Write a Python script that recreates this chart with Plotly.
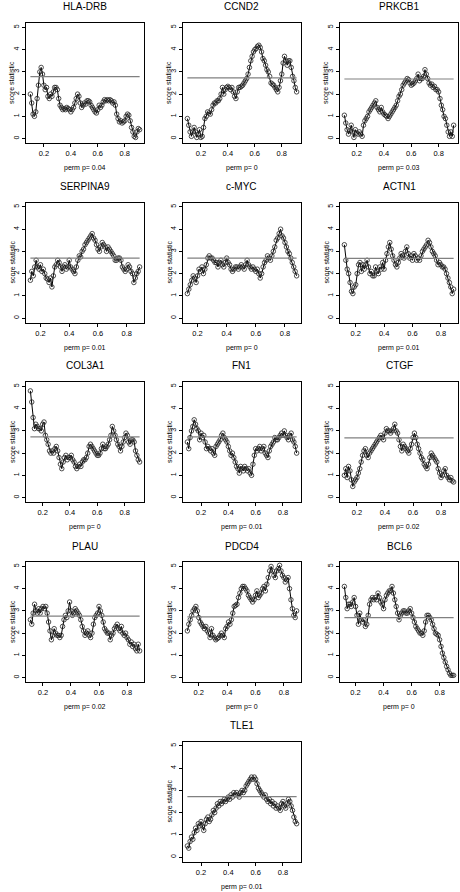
import plotly.graph_objects as go

# ---------------- data ----------------
GENES = ["HLA-DRB", "CCND2", "PRKCB1", "SERPINA9", "c-MYC", "ACTN1",
         "COL3A1", "FN1", "CTGF", "PLAU", "PDCD4", "BCL6", "TLE1"]
PERM_P = ["0.04", "0", "0.03", "0.01", "0", "0.01",
          "0", "0.01", "0.02", "0.02", "0", "0", "0.01"]
THRESHOLD = [2.79, 2.73, 2.68, 2.70, 2.70, 2.69, 2.73, 2.73, 2.69, 2.76, 2.73, 2.70, 2.72]
X_START = [0.10, 0.10, 0.11, 0.13, 0.13, 0.12, 0.11, 0.10, 0.11, 0.11, 0.12, 0.12, 0.10]
X_STEP = 0.01
Y_TICKS = [0, 1, 2, 3, 4, 5]
X_TICKS = [0.2, 0.4, 0.6, 0.8]
X_TICK_LABELS = ["0.2", "0.4", "0.6", "0.8"]

HLA_DRB = [2.0, 1.6, 1.1, 1.0, 1.2, 1.8, 2.4, 3.0, 3.2, 2.9, 2.4, 2.2, 2.3, 1.9, 1.8, 2.0,
           1.9, 2.1, 2.3, 2.3, 2.2, 1.8, 1.5, 1.4, 1.3, 1.35, 1.3, 1.4, 1.35, 1.3, 1.2, 1.3,
           1.4, 1.6, 1.8, 2.0, 1.9, 1.6, 1.4, 1.5, 1.6, 1.55, 1.7, 1.7, 1.65, 1.5, 1.4, 1.3,
           1.2, 1.15, 1.3, 1.5, 1.4, 1.5, 1.65, 1.75, 1.7, 1.75, 1.7, 1.75, 1.7, 1.6, 1.65,
           1.5, 1.1, 0.9, 0.75, 0.8, 0.7, 0.75, 0.8, 1.0, 1.1, 1.05, 0.8, 0.5, 0.3, 0.1, 0.05,
           0.3, 0.45, 0.4]
CCND2 = [0.9, 0.6, 0.3, 0.1, 0.3, 0.5, 0.3, 0.05, 0.2, 0.4, 0.05, 0.1, 0.5, 0.9, 1.0, 1.2,
         1.15, 1.1, 1.3, 1.5, 1.6, 1.6, 1.7, 1.7, 1.8, 2.0, 2.3, 2.0, 2.2, 2.3, 2.35, 2.3,
         2.2, 2.3, 2.1, 1.9, 1.8, 2.1, 2.3, 2.3, 2.35, 2.4, 2.5, 2.6, 2.7, 2.9, 3.2, 3.5,
         3.7, 3.9, 4.0, 4.05, 4.15, 4.2, 4.1, 3.9, 3.6, 3.5, 3.3, 3.1, 3.0, 2.8, 2.5, 2.45,
         2.4, 2.3, 2.2, 2.1, 2.3, 2.6, 2.9, 3.4, 3.7, 3.5, 3.3, 3.5, 3.5, 3.2, 2.8, 2.6, 2.3, 2.1]
PRKCB1 = [1.05, 0.7, 0.4, 0.2, 0.35, 0.6, 0.3, 0.05, 0.4, 0.25, 0.2, 0.3, 0.2, 0.1, 0.6,
          0.8, 0.9, 1.0, 1.2, 1.3, 1.4, 1.5, 1.6, 1.7, 1.4, 1.3, 1.2, 1.4, 1.2, 1.1, 1.05,
          1.0, 0.9, 1.0, 1.1, 1.2, 1.3, 1.4, 1.5, 1.7, 1.9, 2.0, 2.2, 2.4, 2.5, 2.6, 2.7,
          2.65, 2.5, 2.4, 2.45, 2.5, 2.6, 2.7, 2.9, 2.6, 2.7, 2.7, 2.8, 3.1, 2.9, 2.7, 2.5,
          2.4, 2.45, 2.3, 2.35, 2.2, 2.2, 2.1, 1.8, 1.5, 1.3, 1.0, 0.9, 0.6, 0.3, 0.1, 0.3,
          0.1, 0.6]
SERPINA9 = [1.7, 2.1, 1.9, 2.3, 2.6, 2.3, 2.2, 2.4, 2.1, 2.2, 2.0, 1.8, 1.75, 1.6, 1.8,
            1.4, 1.9, 2.3, 2.4, 2.6, 2.5, 2.3, 2.1, 2.3, 2.4, 2.2, 2.3, 2.6, 2.3, 2.2, 2.1,
            2.0, 2.3, 2.6, 2.8, 2.75, 3.0, 3.1, 3.3, 3.4, 3.5, 3.6, 3.7, 3.8, 3.6, 3.5, 3.3,
            3.1, 3.0, 3.2, 3.4, 3.3, 3.2, 3.0, 3.2, 3.1, 3.0, 2.9, 2.8, 2.6, 2.6, 2.7, 2.7,
            2.6, 2.3, 2.2, 2.1, 2.2, 2.4, 2.3, 2.1, 2.0, 1.6, 1.8, 2.0, 2.1, 2.3]
C_MYC = [1.1, 1.3, 1.5, 1.7, 1.9, 1.8, 1.6, 1.9, 2.2, 2.1, 2.3, 2.0, 2.2, 2.4, 2.7, 2.8,
         2.7, 2.7, 2.6, 2.5, 2.5, 2.3, 2.5, 2.6, 2.4, 2.3, 2.5, 2.7, 2.5, 2.4, 2.2, 2.1,
         2.2, 2.3, 2.3, 2.2, 2.3, 2.4, 2.3, 2.2, 2.4, 2.6, 2.4, 2.3, 2.2, 2.3, 2.2, 2.1,
         2.2, 2.0, 1.8, 2.0, 2.3, 2.5, 2.6, 2.8, 2.7, 2.6, 2.8, 3.0, 3.2, 3.5, 3.6, 3.8,
         4.0, 3.7, 3.6, 3.4, 3.2, 3.0, 2.9, 2.7, 2.5, 2.3, 2.1, 1.9]
ACTN1 = [3.3, 2.6, 2.2, 2.0, 1.6, 1.2, 1.1, 1.4, 1.5, 2.0, 2.4, 2.5, 2.1, 2.4, 2.2, 2.4,
         2.6, 2.3, 2.0, 2.1, 1.9, 1.9, 2.3, 2.1, 2.0, 2.3, 2.2, 2.5, 2.2, 2.6, 2.9, 3.2,
         3.4, 3.1, 2.8, 2.6, 2.4, 2.3, 2.5, 2.7, 2.9, 2.8, 2.7, 3.0, 3.2, 2.9, 2.7, 2.8,
         2.6, 2.9, 2.8, 2.6, 2.7, 2.6, 2.8, 3.0, 3.1, 3.2, 3.3, 3.5, 3.4, 3.2, 3.0, 2.9,
         2.8, 2.6, 2.4, 2.5, 2.4, 2.3, 2.3, 2.2, 2.0, 1.8, 1.6, 1.4, 1.1, 1.3]
COL3A1 = [4.8, 4.3, 3.6, 3.1, 3.3, 3.2, 3.1, 3.1, 3.0, 3.3, 3.4, 2.8, 2.6, 2.4, 2.1, 2.0,
          2.1, 2.0, 2.2, 2.3, 2.1, 1.8, 1.5, 1.3, 1.6, 1.8, 1.9, 1.7, 1.8, 1.8, 1.9, 1.7,
          1.6, 1.4, 1.3, 1.4, 1.5, 1.4, 1.6, 1.7, 1.7, 1.8, 2.0, 2.3, 2.4, 2.3, 2.2, 2.1,
          2.0, 1.9, 1.9, 2.0, 2.2, 2.4, 2.2, 2.2, 2.3, 2.4, 2.6, 2.8, 3.2, 3.0, 2.8, 2.6,
          2.4, 2.3, 2.1, 2.3, 2.5, 2.7, 2.9, 2.8, 2.5, 2.4, 2.6, 2.6, 2.5, 2.1, 1.9, 1.7, 1.6]
FN1 = [2.5, 2.2, 2.7, 3.0, 3.2, 3.5, 3.3, 3.1, 3.0, 2.6, 2.9, 2.7, 2.8, 2.5, 2.2, 2.3,
       2.2, 2.1, 2.2, 2.0, 1.9, 2.3, 2.4, 2.5, 2.6, 2.8, 2.9, 2.7, 2.6, 2.5, 2.3, 2.1,
       1.9, 2.0, 1.8, 1.6, 1.4, 1.3, 1.1, 1.4, 1.3, 1.2, 1.4, 1.3, 1.2, 1.3, 1.1, 1.0,
       1.5, 1.9, 2.2, 2.1, 2.2, 2.3, 2.1, 2.2, 2.3, 2.0, 1.9, 1.8, 2.1, 2.3, 2.4, 2.5,
       2.7, 2.6, 2.6, 2.7, 2.8, 2.9, 2.8, 3.0, 2.8, 2.7, 2.6, 2.8, 2.9, 2.6, 2.5, 2.3, 2.0]
CTGF = [1.0, 1.3, 0.9, 1.4, 1.2, 0.8, 0.5, 0.7, 0.8, 0.9, 1.1, 1.3, 1.6, 1.9, 2.1, 2.2,
        1.9, 1.8, 2.0, 2.1, 2.2, 2.3, 2.4, 2.5, 2.6, 2.7, 2.8, 2.7, 2.6, 2.9, 3.1, 3.0,
        3.0, 2.9, 3.0, 3.1, 3.3, 3.0, 2.9, 2.6, 2.3, 2.1, 2.4, 2.3, 2.2, 2.1, 2.0, 2.2,
        2.4, 2.7, 2.9, 2.7, 2.4, 2.2, 2.0, 1.8, 1.7, 1.5, 1.4, 1.3, 1.5, 1.8, 2.0, 1.9,
        1.8, 1.7, 1.6, 1.3, 1.1, 0.9, 1.0, 1.2, 1.3, 1.0, 0.9, 0.8, 0.9, 0.75, 0.7]
PLAU = [2.6, 2.4, 2.9, 3.3, 3.0, 2.9, 3.1, 2.9, 3.1, 3.2, 3.1, 3.2, 2.9, 2.5, 2.1, 1.7,
        1.9, 2.2, 2.0, 1.9, 1.9, 1.8, 1.9, 2.3, 2.6, 2.8, 2.7, 3.0, 3.4, 3.0, 2.8, 2.9,
        3.1, 3.0, 2.9, 2.8, 2.6, 2.3, 2.1, 1.9, 2.0, 2.1, 1.9, 1.8, 2.0, 2.4, 2.7, 2.8,
        2.9, 3.2, 3.0, 2.8, 2.5, 2.2, 2.1, 2.0, 2.0, 1.7, 1.9, 2.0, 2.2, 2.3, 2.4, 2.2,
        2.1, 2.3, 2.0, 1.9, 2.0, 1.8, 1.7, 1.5, 1.6, 1.4, 1.5, 1.3, 1.2, 1.5, 1.2]
PDCD4 = [2.1, 2.4, 2.6, 2.8, 3.0, 3.1, 3.2, 3.0, 2.7, 2.5, 2.4, 2.3, 2.2, 2.3, 2.1, 2.0,
         1.8, 2.2, 1.9, 1.8, 1.7, 1.75, 1.8, 1.9, 2.0, 1.9, 1.8, 2.2, 2.3, 2.5, 2.4, 2.6,
         2.9, 3.2, 3.25, 3.3, 3.6, 3.8, 4.0, 4.1, 4.1, 4.0, 3.9, 3.7, 3.6, 3.5, 3.4, 3.5,
         3.7, 3.9, 3.6, 3.7, 3.8, 4.0, 4.1, 3.9, 4.2, 4.5, 4.8, 5.0, 4.8, 4.6, 4.5, 4.8,
         4.9, 5.05, 4.8, 4.6, 4.5, 4.3, 4.4, 4.5, 4.0, 3.5, 3.1, 2.8, 2.7, 3.0]
BCL6 = [4.1, 3.6, 3.1, 3.3, 3.3, 3.2, 3.4, 3.6, 3.2, 2.8, 2.4, 2.9, 2.6, 2.5, 2.6, 2.3,
        2.4, 2.8, 3.3, 3.5, 3.6, 3.5, 3.6, 3.5, 3.8, 3.6, 3.4, 3.3, 3.1, 3.5, 3.7, 3.8,
        3.9, 3.9, 4.1, 3.8, 3.5, 3.2, 2.9, 2.6, 2.8, 2.9, 3.0, 3.0, 2.9, 2.9, 3.0, 3.1,
        2.9, 2.7, 2.5, 2.3, 2.2, 2.1, 2.0, 2.0, 1.9, 2.1, 2.5, 2.8, 2.8, 2.7, 2.6, 2.4,
        2.2, 2.0, 1.95, 1.9, 1.7, 1.4, 1.1, 0.9, 0.7, 0.5, 0.35, 0.2, 0.1, 0.1, 0.1]
TLE1 = [0.5, 0.4, 0.7, 0.9, 0.8, 1.1, 1.3, 1.2, 1.5, 1.4, 1.6, 1.4, 1.2, 1.5, 1.7, 1.8,
        1.6, 1.7, 1.9, 2.1, 2.0, 2.2, 2.4, 2.3, 2.5, 2.4, 2.5, 2.6, 2.5, 2.6, 2.7, 2.6,
        2.8, 2.7, 2.9, 2.8, 2.9, 2.8, 2.7, 2.9, 3.0, 2.9, 3.0, 3.2, 3.3, 3.4, 3.5, 3.6,
        3.5, 3.6, 3.5, 3.3, 3.1, 3.0, 2.9, 2.8, 2.7, 2.8, 2.6, 2.5, 2.6, 2.4, 2.5, 2.3,
        2.4, 2.2, 2.3, 2.2, 2.1, 2.4, 2.5, 2.3, 2.2, 2.4, 2.6, 2.5, 2.3, 2.1, 1.8, 1.6, 1.5]

SERIES = [HLA_DRB, CCND2, PRKCB1, SERPINA9, C_MYC, ACTN1, COL3A1, FN1, CTGF,
          PLAU, PDCD4, BCL6, TLE1]

# ---------------- layout (pixels) ----------------
W, H = 460, 892
COL_LEFT = [26, 183, 340]
ROW_TOP = [23, 202.5, 382, 562, 741.5]
BOX_W, BOX_H = 118, 120
POS = [(0, 0), (0, 1), (0, 2), (1, 0), (1, 1), (1, 2), (2, 0), (2, 1), (2, 2),
       (3, 0), (3, 1), (3, 2), (4, 1)]
FONT = "Liberation Sans, Arial, sans-serif"

fig = go.Figure()
annotations = []

for i, gene in enumerate(GENES):
    r, c = POS[i]
    left, top = COL_LEFT[c], ROW_TOP[r]
    xd = [left / W, (left + BOX_W) / W]
    yd = [1 - (top + BOX_H) / H, 1 - top / H]
    vals = SERIES[i]
    xs = [round(X_START[i] + k * X_STEP, 3) for k in range(len(vals))]
    x0, x1 = xs[0], xs[-1]
    pad = 0.04 * (x1 - x0)
    xa = "xaxis" if i == 0 else f"xaxis{i+1}"
    ya = "yaxis" if i == 0 else f"yaxis{i+1}"
    xr = "x" if i == 0 else f"x{i+1}"
    yr = "y" if i == 0 else f"y{i+1}"

    fig.add_trace(go.Scatter(
        x=xs, y=vals, xaxis=xr, yaxis=yr, mode="lines+markers",
        line=dict(color="black", width=1),
        marker=dict(symbol="circle-open", size=4.5, color="#222222",
                    line=dict(width=0.8, color="#222222")),
        showlegend=False, hoverinfo="skip"))
    fig.add_trace(go.Scatter(
        x=[x0, x1], y=[THRESHOLD[i], THRESHOLD[i]], xaxis=xr, yaxis=yr,
        mode="lines", line=dict(color="#808080", width=1.2),
        showlegend=False, hoverinfo="skip"))

    fig.layout[xa] = dict(
        domain=xd, range=[x0 - pad, x1 + pad], anchor=yr,
        showline=True, mirror=True, linecolor="black", linewidth=1,
        showgrid=False, zeroline=False, ticks="outside", ticklen=3,
        tickcolor="black", tickvals=X_TICKS, ticktext=X_TICK_LABELS,
        tickfont=dict(family=FONT, size=7.5, color="black"))
    fig.layout[ya] = dict(
        domain=yd, range=[-0.2, 5.2], anchor=xr,
        showline=True, mirror=True, linecolor="black", linewidth=1,
        showgrid=False, zeroline=False, ticks="outside", ticklen=3,
        tickcolor="black", tickvals=Y_TICKS, tickangle=-90,
        tickfont=dict(family=FONT, size=7, color="black"))

    cx = (left + BOX_W / 2) / W
    annotations.append(dict(
        text=gene, x=cx, y=1 - (top - 16) / H, xref="paper", yref="paper",
        xanchor="center", yanchor="middle", showarrow=False,
        font=dict(family=FONT, size=10, color="black")))
    annotations.append(dict(
        text=f"perm p= {PERM_P[i]}", x=cx, y=1 - (top + BOX_H + 25) / H,
        xref="paper", yref="paper", xanchor="center", yanchor="middle",
        showarrow=False, font=dict(family=FONT, size=7, color="black")))
    annotations.append(dict(
        text="score statistic", x=(left - 14) / W, y=1 - (top + BOX_H / 2) / H,
        xref="paper", yref="paper", xanchor="center", yanchor="middle",
        textangle=-90, showarrow=False,
        font=dict(family=FONT, size=7, color="black")))

fig.update_layout(
    width=W, height=H, margin=dict(l=0, r=0, t=0, b=0),
    paper_bgcolor="white", plot_bgcolor="white",
    annotations=annotations)

fig.write_html("out.html",
               config={"displayModeBar": False, "staticPlot": True},
               post_script="document.body.style.margin='0';"
                           "document.body.style.overflow='hidden';")
